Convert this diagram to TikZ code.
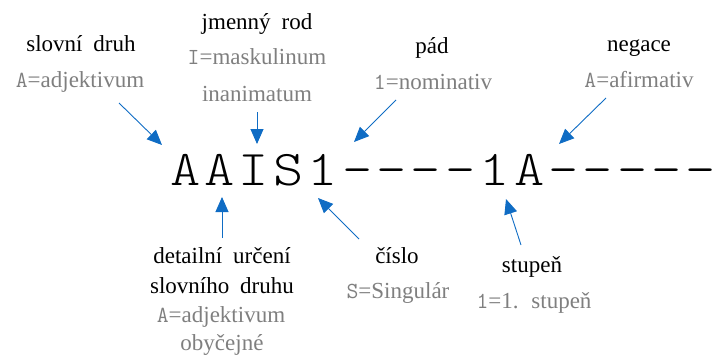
\documentclass[tikz,border=0pt]{standalone}
\usepackage{fontspec}
\setmainfont{Liberation Serif}
\newfontfamily\labelfont[WordSpace=1.9]{Liberation Serif}
\newfontfamily\codefont{lmmonolt10-regular}[Extension=.otf, LetterSpace=7.3]
\usetikzlibrary{arrows.meta}
\definecolor{arrowblue}{HTML}{0F6CC4}
\definecolor{codegray}{HTML}{7F7F7F}

\begin{document}
\begin{tikzpicture}[x=1pt,y=-1pt,
  lbl/.style={anchor=base, inner sep=0pt, font=\labelfont\fontsize{23}{28}\selectfont, text=black},
  val/.style={lbl, text=codegray},
  tag/.style={draw=arrowblue, line width=0.9pt, -{Triangle[length=15pt,width=13pt]}},
]
\clip (0,0) rectangle (712,354);

% the tag string, in a widened typewriter face
\node[anchor=base west, inner sep=0pt, xscale=1.15, transform shape,
      font=\codefont\fontsize{50}{60}\selectfont]
  (code) at (170,185) {AAIS1----1A-----};

% labels above
\node[lbl] (pos)   at (81,51)  {slovní druh};
\node[val] (posv)  at (80,87)  {{\ttfamily A}=adjektivum};

\node[lbl] (gen)   at (257,29)  {jmenný rod};
\node[val] (genv)  at (257,64)  {{\ttfamily I}=maskulinum};
\node[val] (genv2) at (257,101) {inanimatum};

\node[lbl] (case)  at (432,53) {pád};
\node[val] (casev) at (433,89) {{\ttfamily 1}=nominativ};

\node[lbl] (neg)   at (639,51) {negace};
\node[val] (negv)  at (639,87) {{\ttfamily A}=afirmativ};

% labels below
\node[lbl] (sub)   at (222,263) {detailní určení};
\node[lbl] (sub2)  at (222,293) {slovního druhu};
\node[val] (subv)  at (221,322) {{\ttfamily A}=adjektivum};
\node[val] (subv2) at (222,350) {obyčejné};

\node[lbl] (num)   at (397,263) {číslo};
\node[val] (numv)  at (398,298) {{\ttfamily S}=Singulár};

\node[lbl] (deg)   at (532,272) {stupeň};
\node[val] (degv)  at (534,308) {{\ttfamily 1}=1. stupeň};

% arrow ends
\coordinate (posA) at (119,103);  \coordinate (posB) at (162,145);
\coordinate (genA) at (257,112);  \coordinate (genB) at (257,144);
\coordinate (caseA) at (396,100); \coordinate (caseB) at (354,142);
\coordinate (negA) at (606,98);   \coordinate (negB) at (559,144);
\coordinate (subA) at (222,238);  \coordinate (subB) at (222,197);
\coordinate (numA) at (359,239);  \coordinate (numB) at (318,198);
\coordinate (degA) at (521,245);  \coordinate (degB) at (506,199);

\draw[tag] (posA) -- (posB);
\draw[tag] (genA) -- (genB);
\draw[tag] (caseA) -- (caseB);
\draw[tag] (negA) -- (negB);
\draw[tag] (subA) -- (subB);
\draw[tag] (numA) -- (numB);
\draw[tag] (degA) -- (degB);
\end{tikzpicture}
\end{document}
